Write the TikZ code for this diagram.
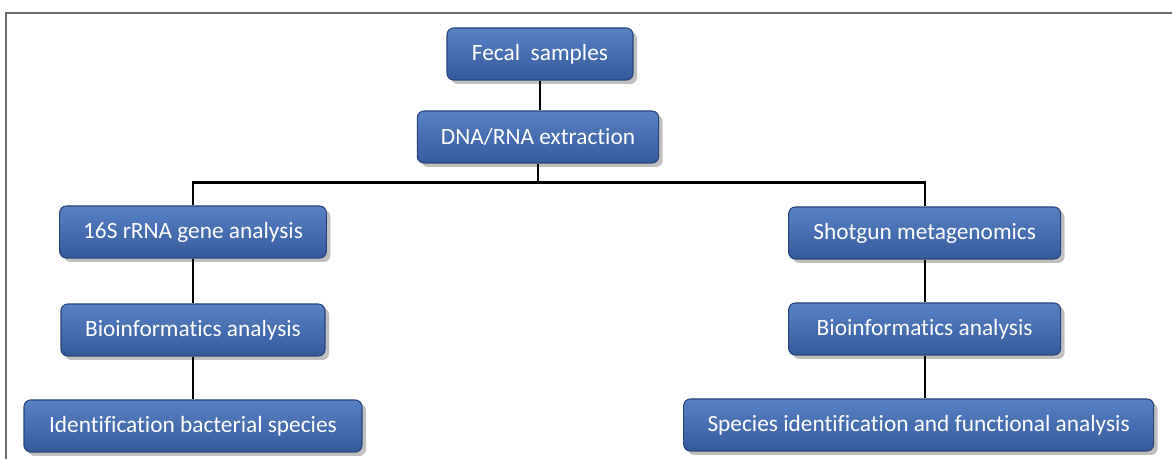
\documentclass[tikz,border=0pt]{standalone}
\usepackage{fontspec}
\setmainfont{Carlito}[Ligatures={NoCommon,NoRare,NoContextual}]
\usepackage{tikz}
\usetikzlibrary{positioning,shadows}
\definecolor{boxtop}{RGB}{86,130,196}
\definecolor{boxbottom}{RGB}{52,90,156}
\definecolor{boxedge}{RGB}{38,68,122}
\definecolor{framegray}{RGB}{105,105,105}

\begin{document}
\begin{tikzpicture}[auto, node distance=72pt and 72pt, on grid,
  stepbox/.style={rounded corners=5pt, top color=boxtop, bottom color=boxbottom, draw=boxedge, line width=0.8pt,
    text=white, font=\fontsize{17.5}{20}\selectfont, minimum height=39pt, inner sep=0pt,
    drop shadow={shadow xshift=3pt, shadow yshift=-3pt, opacity=0.5}},
  link/.style={line width=1.7pt}]
	\useasboundingbox (0,0) rectangle (879pt,-344.25pt);
	\draw [framegray, line width=1.5pt] (879pt,-9.75pt) -- (4.5pt,-9.75pt) -- (4.5pt,-344.25pt);
	\node [stepbox, minimum width=139.5pt] (fecal) at (405pt,-40.5pt) {Fecal\ \ samples};
	\node [stepbox, minimum width=181pt] (dna) [below left=62.25pt and 1.5pt of fecal] {DNA/RNA extraction};
	\node [stepbox, minimum width=200pt] (sixteen) [below left=71.25pt and 258.75pt of dna] {16S rRNA gene analysis};
	\node [stepbox, minimum width=204pt] (shotgun) [below right=72pt and 290pt of dna] {Shotgun metagenomics};
	\node [stepbox, minimum width=198pt] (bioleft) [below=73.5pt of sixteen] {Bioinformatics analysis};
	\node [stepbox, minimum width=204pt] (bioright) [below=72pt of shotgun] {Bioinformatics analysis};
	\node [stepbox, minimum width=253.5pt] (ident) [below=72pt of bioleft] {Identification bacterial species};
	\node [stepbox, minimum width=352.5pt] (species) [below left=72pt and 4.5pt of bioright] {Species identification and functional analysis};
	\coordinate [below=14.25pt of dna.south] (split);
	\draw [link] (fecal) -- (fecal |- dna.north);
	\draw [link] (dna.south) -- (split);
	\draw [link] (sixteen.north) |- (split) -| (shotgun.north);
	\draw [link] (sixteen) -- (bioleft);
	\draw [link] (bioleft) -- (ident);
	\draw [link] (shotgun) -- (bioright);
	\draw [link] (bioright.south) -- (bioright.south |- species.north);
\end{tikzpicture}
\end{document}
